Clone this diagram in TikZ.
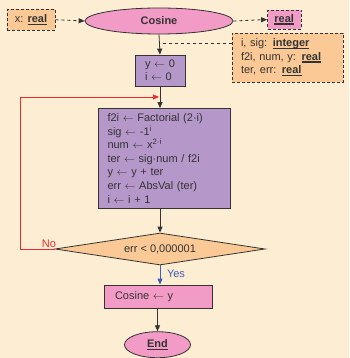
\documentclass[tikz,border=0pt]{standalone}
\usepackage{fontspec}
\setmainfont{Liberation Sans}
\usetikzlibrary{shapes.geometric,arrows.meta}
\definecolor{paper}{HTML}{FCEDD3}
\definecolor{peach}{HTML}{FBC996}
\definecolor{rose}{HTML}{F39BC7}
\definecolor{lilac}{HTML}{B597CA}
\definecolor{ink}{HTML}{333333}
\definecolor{loopred}{HTML}{EE2A2A}
\definecolor{yesblue}{HTML}{3E5EB5}
% bold keyword with a heavy underline
\newcommand\kw[1]{\setbox0\hbox{\textbf{#1}}\leavevmode\rlap{\rule[-2.4pt]{\wd0}{1.3pt}}\box0}
\newcommand\la{$\leftarrow$}
\tikzset{
  every node/.style={font=\fontsize{11}{13.6}\selectfont, text=ink},
  frame/.style={draw=ink, line width=0.8pt, inner ysep=0pt},
  decl/.style={frame, dashed, dash pattern=on 3pt off 2pt, fill=peach},
  proc/.style={frame, fill=lilac, align=left},
  term/.style={frame, ellipse, fill=rose, inner sep=0pt},
  flow/.style={draw=ink, line width=0.8pt, -{Triangle[length=6pt,width=5pt]}},
  dataflow/.style={flow, dash pattern=on 3pt off 3pt},
}
\begin{document}
\begin{tikzpicture}[x=1pt,y=-1pt]
  \fill[paper] (0,0) rectangle (349,358);
  \useasboundingbox (0,0) rectangle (349,358);

  % parameters, header and result type
  \node[decl, minimum width=48pt, minimum height=20.5pt, inner xsep=0pt] (in) at (31,19.75) {x: \kw{real}};
  \node[term, minimum width=148pt, minimum height=26pt] (cos) at (159,21) {\textbf{Cosine}};
  \node[decl, fill=rose, minimum width=33.5pt, minimum height=19pt, inner xsep=0pt] (out) at (284.25,19.5) {\kw{real}};
  \node[decl, align=left, text width=93pt, inner xsep=9pt, minimum height=49pt,
        font=\fontsize{11}{13.3}\selectfont] (vars) at (287.5,57.5)
    {i, sig: \kw{integer}\\ f2i, num, y: \kw{real}\\ ter, err: \kw{real}};

  % body of the function
  \node[proc, text width=30pt, inner xsep=10pt, minimum height=31pt,
        font=\fontsize{11}{12.7}\selectfont] (init) at (160,70.5)
    {y \la{} 0\\ i \la{} 0};
  \node[proc, text width=114pt, inner xsep=9pt, minimum height=99.5pt] (body) at (164.5,158.25)
    {f2i \la{} Factorial (2·i)\\
     sig \la{} -1\textsuperscript{i}\\
     num \la{} x\textsuperscript{2·i}\\
     ter \la{} sig·num / f2i\\
     y \la{} y + ter\\
     err \la{} AbsVal (ter)\\
     i \la{} i + 1};
  \node[frame, diamond, fill=peach, aspect=6.5, minimum width=210pt, minimum height=32pt,
        inner sep=0pt] (cond) at (160,249) {err < 0,000001};
  \node[proc, fill=rose, text width=86.5pt, inner xsep=11pt, minimum height=23pt] (res) at (158.25,296.5)
    {Cosine \la{} y};
  \node[term, minimum width=66pt, minimum height=26pt] (end) at (157.5,344.7) {\kw{End}};

  % connectors
  \coordinate (vj) at (232,43);
  \coordinate (vm) at (160,43);
  \coordinate (lp) at (20,97);
  \coordinate (lj) at (159,97);
  \draw[dataflow] (in.east) -- (cos.west);
  \draw[dataflow] (cos.east) -- (out.west);
  \draw[draw=ink, line width=0.8pt, dash pattern=on 3pt off 3pt] (vj) -- (vm);
  \draw[flow] (cos.south) -- (init.north);
  \draw[flow] (init.south) -- (init.south |- body.north);
  \draw[flow] (cond.north |- body.south) -- (cond.north);
  \draw[flow, draw=loopred, line width=0.7pt] (cond.west) -| (lp) -- (lj);
  \draw[flow, draw=yesblue] (cond.south) -- (cond.south |- res.north);
  \draw[flow] (end.north |- res.south) -- (end.north);

  % branch labels
  \node[text=loopred, inner sep=0pt] (no) at (49,243.5) {No};
  \node[text=yesblue, inner sep=0pt] (yes) at (176,274) {Yes};
\end{tikzpicture}
\end{document}
